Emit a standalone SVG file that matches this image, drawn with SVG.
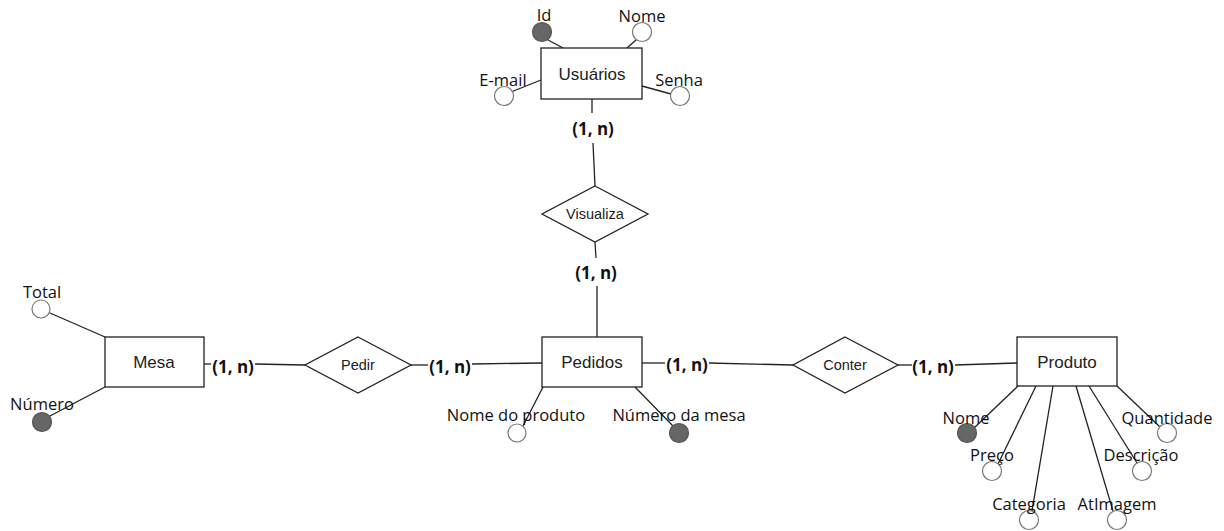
<svg xmlns="http://www.w3.org/2000/svg" width="1224" height="531" viewBox="0 0 1224 531">
<style>
.box{fill:#fff;stroke:#222;stroke-width:1.3}
.dia{fill:#fff;stroke:#222;stroke-width:1.3}
.ln{stroke:#222;stroke-width:1.3;fill:none}
.att{fill:#fff;stroke:#777;stroke-width:1.2}
.key{fill:#666;stroke:#555;stroke-width:1.2}
.bl{font-family:"Liberation Sans",Arial,sans-serif;font-size:17px;fill:#222;text-anchor:middle;dominant-baseline:central}
.dl{font-family:"Liberation Sans",Arial,sans-serif;font-size:14.5px;fill:#222;text-anchor:middle;dominant-baseline:central}
.al{font-family:"Open Sans",sans-serif;font-size:16.5px;fill:#111;text-anchor:middle;dominant-baseline:central}
.cd{font-family:"Open Sans",sans-serif;font-size:17px;font-weight:bold;fill:#111;text-anchor:middle;dominant-baseline:central}
</style>
<rect width="1224" height="531" fill="#fff"/>
<g id="connectors">
<line class="ln" x1="592" y1="99" x2="592" y2="113"/>
<line class="ln" x1="593" y1="143" x2="595" y2="186"/>
<line class="ln" x1="595" y1="242" x2="596" y2="258"/>
<line class="ln" x1="597" y1="286" x2="597" y2="337"/>
<line class="ln" x1="204" y1="364" x2="211" y2="364"/>
<line class="ln" x1="255" y1="364" x2="305" y2="365"/>
<line class="ln" x1="411" y1="365" x2="428" y2="365"/>
<line class="ln" x1="472" y1="364" x2="542" y2="363"/>
<line class="ln" x1="642" y1="363" x2="665" y2="363"/>
<line class="ln" x1="709" y1="363" x2="793" y2="365"/>
<line class="ln" x1="898" y1="365" x2="912" y2="365"/>
<line class="ln" x1="955" y1="365" x2="1017" y2="363"/>
<line class="ln" x1="548" y1="40" x2="563" y2="48"/>
<line class="ln" x1="636" y1="40" x2="627" y2="48"/>
<line class="ln" x1="541" y1="80" x2="511" y2="92"/>
<line class="ln" x1="642" y1="86" x2="671" y2="94"/>
<line class="ln" x1="50" y1="313" x2="105" y2="337"/>
<line class="ln" x1="50" y1="416" x2="105" y2="387"/>
<line class="ln" x1="543" y1="387" x2="523" y2="426"/>
<line class="ln" x1="635" y1="387" x2="674" y2="427"/>
<line class="ln" x1="1018" y1="386" x2="974" y2="428"/>
<line class="ln" x1="1036" y1="386" x2="998" y2="464"/>
<line class="ln" x1="1053" y1="386" x2="1032" y2="511"/>
<line class="ln" x1="1076" y1="386" x2="1113" y2="511"/>
<line class="ln" x1="1089" y1="386" x2="1137" y2="463"/>
<line class="ln" x1="1117" y1="386" x2="1160" y2="427"/>
<text class="cd" x="593" y="128">(1, n)</text>
<text class="cd" x="596" y="272">(1, n)</text>
<text class="cd" x="233" y="366">(1, n)</text>
<text class="cd" x="450" y="366">(1, n)</text>
<text class="cd" x="687" y="364">(1, n)</text>
<text class="cd" x="933" y="366">(1, n)</text>
</g>
<g id="usuarios">
<rect class="box" x="541" y="48" width="101" height="51"/>
<text class="bl" x="592" y="74">Usuários</text>
</g>
<g id="usuarios-id"><circle class="key" cx="542" cy="32" r="9.5"/><text class="al" x="544" y="14">Id</text></g>
<g id="usuarios-nome"><circle class="att" cx="642" cy="32" r="9.5"/><text class="al" x="642" y="15">Nome</text></g>
<g id="usuarios-email"><circle class="att" cx="504" cy="96" r="9.5"/><text class="al" x="503" y="79">E-mail</text></g>
<g id="usuarios-senha"><circle class="att" cx="680" cy="96" r="9.5"/><text class="al" x="679" y="79">Senha</text></g>
<g id="visualiza">
<polygon class="dia" points="595,186 648,214 595,242 542,214"/>
<text class="dl" x="595" y="214">Visualiza</text>
</g>
<g id="pedidos">
<rect class="box" x="542" y="337" width="100" height="50"/>
<text class="bl" x="592" y="362">Pedidos</text>
</g>
<g id="pedidos-nome-produto"><circle class="att" cx="517" cy="433" r="9"/><text class="al" x="516" y="414">Nome do produto</text></g>
<g id="pedidos-numero-mesa"><circle class="key" cx="679" cy="433" r="9.5"/><text class="al" x="679" y="414">Número da mesa</text></g>
<g id="mesa">
<rect class="box" x="105" y="337" width="99" height="50"/>
<text class="bl" x="154" y="362">Mesa</text>
</g>
<g id="mesa-total"><circle class="att" cx="41" cy="309" r="9"/><text class="al" x="42" y="291">Total</text></g>
<g id="mesa-numero"><circle class="key" cx="42" cy="422" r="9.5"/><text class="al" x="42" y="403">Número</text></g>
<g id="pedir">
<polygon class="dia" points="358,337 411,365 358,393 305,365"/>
<text class="dl" x="358" y="365">Pedir</text>
</g>
<g id="conter">
<polygon class="dia" points="845,337 898,365 845,393 793,365"/>
<text class="dl" x="845" y="365">Conter</text>
</g>
<g id="produto">
<rect class="box" x="1017" y="337" width="100" height="49"/>
<text class="bl" x="1067" y="362">Produto</text>
</g>
<g id="produto-nome"><circle class="key" cx="967" cy="433" r="9.5"/><text class="al" x="966" y="417">Nome</text></g>
<g id="produto-preco"><circle class="att" cx="992" cy="471" r="9.5"/><text class="al" x="992" y="454">Preço</text></g>
<g id="produto-categoria"><circle class="att" cx="1029" cy="520" r="9.5"/><text class="al" x="1029" y="503">Categoria</text></g>
<g id="produto-atimagem"><circle class="att" cx="1117" cy="520" r="9.5"/><text class="al" x="1117" y="503">AtImagem</text></g>
<g id="produto-descricao"><circle class="att" cx="1142" cy="471" r="9.5"/><text class="al" x="1141" y="454">Descrição</text></g>
<g id="produto-quantidade"><circle class="att" cx="1167" cy="433" r="9.5"/><text class="al" x="1167" y="417">Quantidade</text></g>
</svg>
